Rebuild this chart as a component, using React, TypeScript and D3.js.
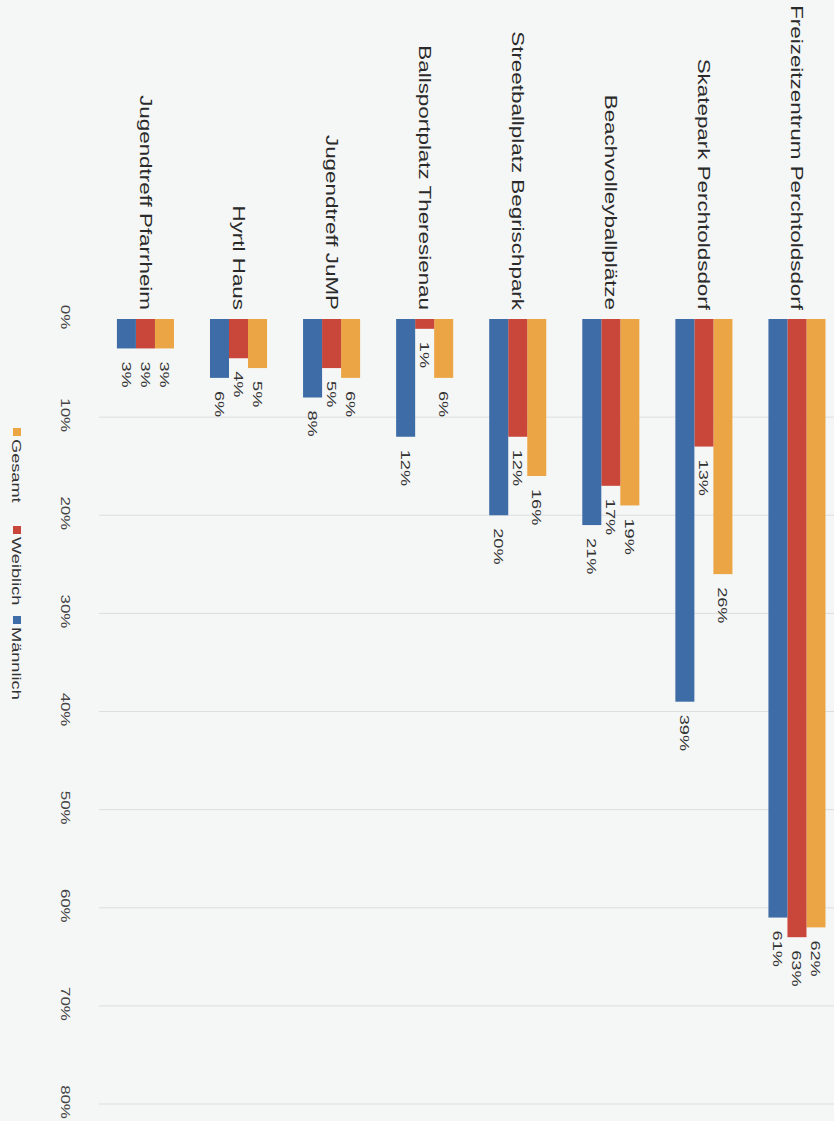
import React from "react";
import * as d3 from "d3";

const categories = [
  "Freizeitzentrum Perchtoldsdorf",
  "Skatepark Perchtoldsdorf",
  "Beachvolleyballplätze",
  "Streetballplatz Begrischpark",
  "Ballsportplatz Theresienau",
  "Jugendtreff JuMP",
  "Hyrtl Haus",
  "Jugendtreff Pfarrheim",
];
const seriesNames = ["Gesamt", "Weiblich", "Männlich"];
const gesamt = [0.62, 0.26, 0.19, 0.16, 0.06, 0.06, 0.05, 0.03];
const weiblich = [0.63, 0.13, 0.17, 0.12, 0.01, 0.05, 0.04, 0.03];
const maennlich = [0.61, 0.39, 0.21, 0.2, 0.12, 0.08, 0.06, 0.03];
const tickValues = [0, 0.1, 0.2, 0.3, 0.4, 0.5, 0.6, 0.7, 0.8];
const colors = ["#eba545", "#c8463a", "#3d6ca6"];

const W = 834;
const H = 1121;
const SX = 1.4; // text stretch along reading direction (photo)
const FONT = "'Liberation Sans', Arial, Helvetica, sans-serif";

export default function App() {
  const seriesValues = [gesamt, weiblich, maennlich];
  // chart drawn in its natural (horizontal) orientation, then rotated 90° clockwise
  const x = d3.scaleLinear().domain([0, 0.8]).range([319, 1104]);
  const y = d3
    .scaleBand<string>()
    .domain(categories)
    .range([-9.5, 735.1])
    .paddingInner(0.387)
    .paddingOuter(0.1935);
  const ySub = d3
    .scaleBand<string>()
    .domain(seriesNames)
    .range([0, y.bandwidth()]);
  const fmt = d3.format(".0%");

  const legendX = [428, 526, 616];

  return (
    <svg
      width={W}
      height={H}
      style={{ position: "absolute", left: 0, top: 0, background: "#f5f6f6" }}
      fontFamily={FONT}
    >
      <rect x={0} y={0} width={W} height={H} fill="#f5f6f6" />
      <g transform={`translate(${W},0) rotate(90)`}>
        {/* gridlines */}
        {tickValues.slice(1).map((t) => (
          <line
            key={"g" + t}
            x1={x(t)}
            x2={x(t)}
            y1={0}
            y2={735}
            stroke="#dcdedf"
            strokeWidth={1}
          />
        ))}
        {/* tick labels */}
        {tickValues.map((t) => (
          <g
            key={"t" + t}
            transform={`translate(${x(t) - 2},769) scale(1.35,1)`}
          >
            <text
              textAnchor="middle"
              dominantBaseline="central"
              fontSize={12.5}
              fill="#444"
            >
              {fmt(t)}
            </text>
          </g>
        ))}
        {/* category labels */}
        {categories.map((c) => (
          <g
            key={"c" + c}
            transform={`translate(310,${(y(c) as number) + y.bandwidth() / 2}) scale(${SX},1)`}
          >
            <text
              textAnchor="end"
              dominantBaseline="central"
              fontSize={16}
              fill="#2a2a2a"
            >
              {c}
            </text>
          </g>
        ))}
        {/* bars */}
        {categories.map((c, i) => (
          <g key={"b" + c} transform={`translate(0,${y(c)})`}>
            {seriesNames.map((s, j) => (
              <rect
                key={s}
                x={x(0)}
                y={ySub(s)}
                width={x(seriesValues[j][i]) - x(0)}
                height={ySub.bandwidth()}
                fill={colors[j]}
              />
            ))}
          </g>
        ))}
        {/* value labels */}
        {categories.map((c, i) =>
          seriesNames.map((s, j) => (
            <g
              key={"v" + c + s}
              transform={`translate(${x(seriesValues[j][i]) + 13},${
                (y(c) as number) + (ySub(s) as number) + ySub.bandwidth() / 2
              }) scale(${SX},1)`}
            >
              <text
                textAnchor="start"
                dominantBaseline="central"
                fontSize={13}
                fill="#333"
              >
                {fmt(seriesValues[j][i])}
              </text>
            </g>
          ))
        )}
        {/* legend */}
        {seriesNames.map((s, j) => (
          <g key={"l" + s} transform={`translate(${legendX[j]},817)`}>
            <rect x={0} y={-4} width={8} height={8} fill={colors[j]} />
            <g transform={`translate(11,0) scale(${SX},1)`}>
              <text dominantBaseline="central" fontSize={13} fill="#333">
                {s}
              </text>
            </g>
          </g>
        ))}
      </g>
    </svg>
  );
}
